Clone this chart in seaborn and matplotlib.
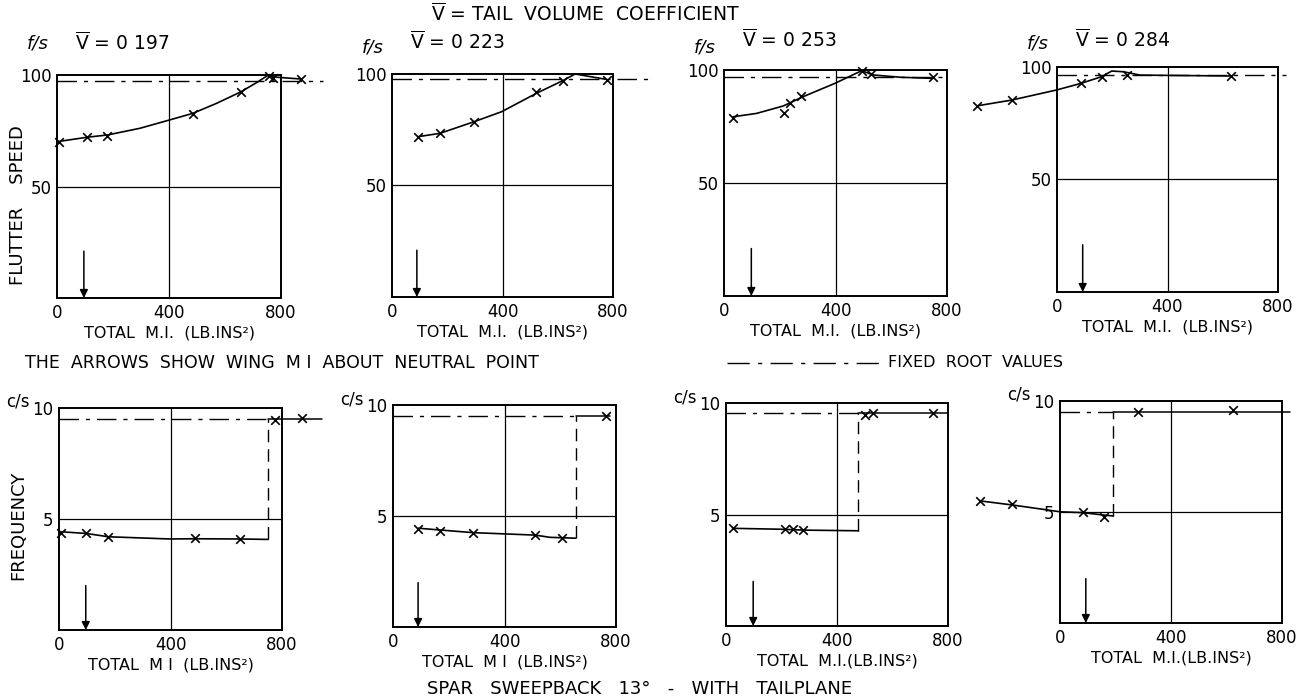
import matplotlib
matplotlib.use("Agg")
import matplotlib.pyplot as plt
from matplotlib.lines import Line2D
import seaborn as sns

sns.set_style("white")
plt.rcParams["font.family"] = ["DejaVu Sans"]
plt.rcParams["mathtext.fontset"] = "dejavusans"
plt.rcParams["text.color"] = "black"
plt.rcParams["axes.labelcolor"] = "black"
plt.rcParams["xtick.color"] = "black"
plt.rcParams["ytick.color"] = "black"

# ---------------- data ----------------
vbar_labels = ["0 197", "0 223", "0 253", "0 284"]
mi_ticks = [0, 400, 800]
speed_ticks = [50, 100]
freq_ticks = [5, 10]
wing_mi = [96, 90, 98, 93]          # wing M.I. about neutral point (arrows)

# flutter speed, measured points (ft/s against total M.I.)
speed_pts_x = [
    [7, 108, 180, 485, 656, 758, 773, 871],
    [95, 174, 297, 522, 618, 777],
    [33, 215, 237, 278, 494, 527, 750],
    [-291, -164, 86, 162, 252, 629],
]
speed_pts_y = [
    [70.1, 72.3, 72.8, 82.5, 92.4, 99.6, 98.5, 98.2],
    [71.9, 73.4, 78.6, 92.1, 97.0, 97.3],
    [78.6, 81.1, 85.5, 88.5, 99.7, 98.2, 96.7],
    [82.7, 85.3, 92.7, 95.4, 96.4, 96.0],
]
# faired flutter speed curves
speed_curve_x = [
    [1, 108, 180, 296, 401, 485, 570, 656, 713, 755, 785, 871],
    [95, 174, 297, 397, 522, 618, 663, 775],
    [33, 117, 213, 284, 398, 494, 535, 631, 750],
    [-291, -164, -1, 86, 162, 198, 240, 301, 629],
]
speed_curve_y = [
    [70.1, 72.1, 73.1, 76.1, 79.8, 82.8, 87.3, 92.4, 96.6, 100.0, 99.0, 98.2],
    [71.9, 73.4, 78.6, 83.1, 91.3, 97.0, 100.0, 97.6],
    [79.3, 80.8, 84.1, 88.2, 94.1, 99.7, 97.8, 96.8, 96.3],
    [82.7, 85.3, 89.8, 92.7, 95.7, 98.2, 97.9, 96.4, 96.0],
]
speed_fixed = [97.3, 97.8, 96.8, 96.4]
speed_fixed_end = [950, 935, 800, 830]

# frequency, lower branch (c/s against total M.I.)
freq_lo_pts_x = [
    [7, 97, 177, 487, 651],
    [91, 168, 288, 509, 607],
    [26, 213, 243, 276],
    [-288, -174, 84, 159],
]
freq_lo_pts_y = [
    [4.36, 4.36, 4.20, 4.13, 4.10],
    [4.40, 4.34, 4.22, 4.14, 4.00],
    [4.38, 4.34, 4.34, 4.30],
    [5.50, 5.34, 5.01, 4.76],
]
freq_lo_curve_x = [
    [1, 97, 177, 398, 487, 651, 750],
    [91, 168, 288, 509, 563, 607, 655],
    [24, 195, 279, 477],
    [-288, -174, -72, 0, 84, 159, 192],
]
freq_lo_curve_y = [
    [4.43, 4.35, 4.20, 4.10, 4.11, 4.10, 4.08],
    [4.45, 4.37, 4.25, 4.14, 4.04, 4.02, 4.00],
    [4.38, 4.34, 4.30, 4.27],
    [5.50, 5.32, 5.14, 5.01, 4.97, 4.86, 4.82],
]
# frequency, upper branch
freq_hi_pts_x = [
    [774, 870],
    [763],
    [500, 531, 747],
    [282, 624],
]
freq_hi_pts_y = [
    [9.46, 9.56],
    [9.50],
    [9.46, 9.54, 9.54],
    [9.52, 9.58],
]
freq_hi_end = [943, 780, 800, 829]
freq_fixed = [9.50, 9.50, 9.54, 9.52]
freq_step_x = [750, 655, 477, 192]

# ---------------- layout (pixels) ----------------
W, H = 1302, 699
top_boxes = [(57, 281, 75, 298), (392, 613, 74, 297), (724, 947, 70, 296), (1057, 1278, 67, 292)]
bot_boxes = [(59, 282, 408, 630), (393, 616, 405, 627), (726, 948, 403, 626), (1060, 1282, 401, 623)]
title_y = [(44, 43), (48, 42), (47, 40), (43, 40)]

fig = plt.figure(figsize=(W / 100, H / 100), dpi=100)

fixed_style = (0, (14, 5, 3, 5))
lw_curve = 1.2
fs_tick = 12
fs_lab = 11.5


def make_axes(box):
    l, r, t, b = box
    return fig.add_axes([l / W, 1 - b / H, (r - l) / W, (b - t) / H])


def style_axes(ax, ymax, yticks):
    ax.set_xlim(0, 800)
    ax.set_ylim(0, ymax)
    ax.set_xticks(mi_ticks)
    ax.set_yticks(yticks)
    ax.set_xticklabels([str(v) for v in mi_ticks], fontsize=fs_tick)
    ax.set_yticklabels([str(v) for v in yticks], fontsize=fs_tick)
    ax.tick_params(length=0, pad=4)
    for s in ax.spines.values():
        s.set_visible(True)
        s.set_color("black")
        s.set_linewidth(1.4)
    ax.axvline(400, color="black", lw=0.9, zorder=1)
    ax.axhline(yticks[0], color="black", lw=0.9, zorder=1)
    ax.set_facecolor("white")


def curve(ax, xs, ys, **kw):
    sns.lineplot(x=xs, y=ys, ax=ax, sort=False, estimator=None,
                 color="black", lw=kw.pop("lw", lw_curve), **kw)
    ax.lines[-1].set_clip_on(False)


def crosses(ax, xs, ys):
    sns.scatterplot(x=xs, y=ys, ax=ax, marker="x", color="black", s=38,
                    linewidth=1.2, zorder=5)
    ax.collections[-1].set_clip_on(False)


def arrow(ax, x, ytop):
    ax.annotate("", xy=(x, 0), xytext=(x, ytop),
                arrowprops=dict(arrowstyle="-|>", color="black", lw=1.1,
                                mutation_scale=12, shrinkA=0, shrinkB=0))


for i in range(4):
    # flutter speed panels
    ax = make_axes(top_boxes[i])
    style_axes(ax, 100, speed_ticks)
    curve(ax, [0, speed_fixed_end[i]], [speed_fixed[i], speed_fixed[i]],
          lw=1.0, linestyle=fixed_style)
    curve(ax, speed_curve_x[i], speed_curve_y[i])
    crosses(ax, speed_pts_x[i], speed_pts_y[i])
    arrow(ax, wing_mi[i], 21)
    ax.set_xlabel("TOTAL  M.I.  (LB.INS²)", fontsize=fs_lab, labelpad=3)
    ax.set_ylabel("")
    l, r, t, b = top_boxes[i]
    fy, vy = title_y[i]
    fig.text((l - 30) / W, 1 - fy / H, "f/s", fontsize=13, va="center", ha="left",
             fontstyle="italic")
    fig.text((l + 18) / W, 1 - vy / H, r"$\overline{\rm V}$ = " + vbar_labels[i],
             fontsize=13.5, va="center", ha="left")

    # frequency panels
    ax = make_axes(bot_boxes[i])
    style_axes(ax, 10, freq_ticks)
    s = freq_step_x[i]
    curve(ax, [0, s], [freq_fixed[i], freq_fixed[i]], lw=1.0, linestyle=fixed_style)
    curve(ax, [s, s], [freq_lo_curve_y[i][-1], freq_fixed[i]], lw=1.0,
          linestyle=(0, (9, 5)))
    curve(ax, freq_lo_curve_x[i], freq_lo_curve_y[i])
    curve(ax, [s, freq_hi_end[i]], [freq_fixed[i], freq_fixed[i]], lw=1.1)
    crosses(ax, freq_lo_pts_x[i], freq_lo_pts_y[i])
    crosses(ax, freq_hi_pts_x[i], freq_hi_pts_y[i])
    arrow(ax, wing_mi[i], 2.0)
    xl = "TOTAL  M I  (LB.INS²)" if i < 2 else "TOTAL  M.I.(LB.INS²)"
    ax.set_xlabel(xl, fontsize=fs_lab, labelpad=3)
    ax.set_ylabel("")
    l, r, t, b = bot_boxes[i]
    fig.text((l - 53) / W, 1 - (t - 6) / H, "c/s", fontsize=12, va="center", ha="left")

# figure annotations
fig.text(586 / W, 1 - 14 / H, r"$\overline{\rm V}$ = TAIL  VOLUME  COEFFICIENT",
         fontsize=13.5, ha="center", va="center")
fig.text(18 / W, 1 - 205 / H, "FLUTTER    SPEED", rotation=90, fontsize=13,
         ha="center", va="center")
fig.text(18 / W, 1 - 525 / H, "FREQUENCY", rotation=90, fontsize=13,
         ha="center", va="center")
fig.text(25 / W, 1 - 363 / H, "THE  ARROWS  SHOW  WING  M I  ABOUT  NEUTRAL  POINT",
         fontsize=12.5, ha="left", va="center")
fig.add_artist(Line2D([727 / W, 883 / W], [1 - 363 / H, 1 - 363 / H],
                      color="black", lw=1.0, linestyle=(0, (16, 6, 3, 6))))
fig.text(888 / W, 1 - 363 / H, "FIXED  ROOT  VALUES", fontsize=11.5,
         ha="left", va="center")
fig.text(640 / W, 1 - 689 / H, "SPAR   SWEEPBACK   13°   -   WITH   TAILPLANE",
         fontsize=13, ha="center", va="center")

fig.savefig("out.png", dpi=100, facecolor="white")
